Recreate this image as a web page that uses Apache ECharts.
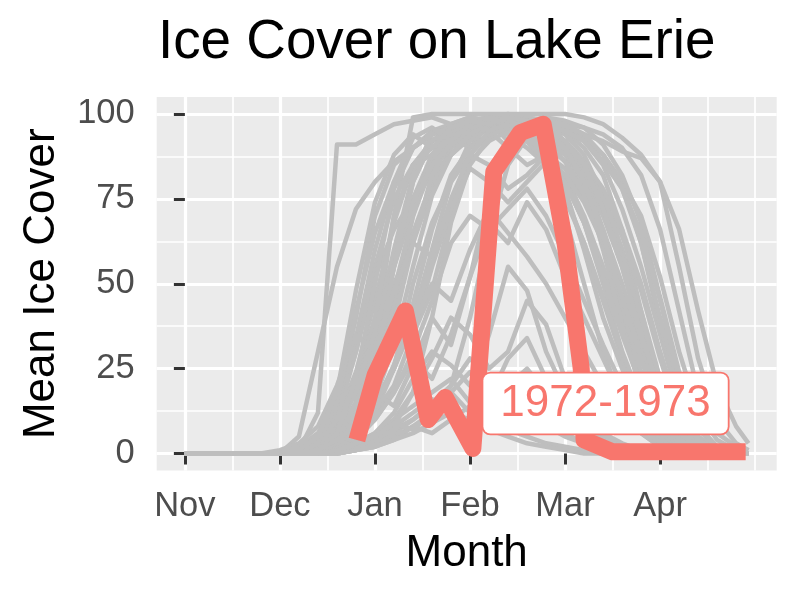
<!DOCTYPE html>
<html>
<head>
<meta charset="utf-8">
<script src="https://cdn.jsdelivr.net/npm/echarts@6/dist/echarts.min.js"></script>
<style>
html, body { margin: 0; background: #fff; }
#chart { width: 800px; height: 600px; }
</style>
</head>
<body>
<div id="chart"></div>
<script>
// x is months since Nov 1 (one unit per month)
const monthLabels = ['Nov', 'Dec', 'Jan', 'Feb', 'Mar', 'Apr'];
const monthTicks = [0, 1, 2, 3, 4, 5];
const monthMinor = [0.5, 1.5, 2.5, 3.5, 4.5, 5.5, 6];
const coverTicks = [0, 25, 50, 75, 100];
const coverMinor = [12.5, 37.5, 62.5, 87.5];

// sample dates shared by all grey seasons
const greyX = [0, 0.2, 0.4, 0.6, 0.8, 1, 1.2, 1.4, 1.6, 1.8, 2, 2.2, 2.4, 2.6, 2.8, 3, 3.2, 3.4, 3.6, 3.8, 4, 4.2, 4.4, 4.6, 4.8, 5, 5.2, 5.4, 5.6, 5.8, 5.93];

// mean ice cover of the other seasons (read off the tangle, approx.)
const s01 = [0,0,0,0,0,0,1,12,91,91,94,97,98,99,97,99,98,96,97,94,90,82,66,45,28,12,5,2,1,0,0];
const s02 = [0,0,0,0,0,0,5,30,55,72,80,86,90,95,97,98,99,100,99,97,95,93,88,80,70,52,30,12,4,1,0];
const s03 = [0,0,0,0,0,0,0,3,10,24,45,68,85,92,96,98,99,99,99,98,96,94,92,89,87,80,55,28,10,3,1];
const s04 = [0,0,0,0,0,0,0,1,4,12,35,70,99,100,100,100,100,100,100,100,100,99,97,93,88,80,66,42,20,8,3];
const s05 = [0,0,0,0,0,0,0,2,6,15,30,55,75,88,94,96,97,95,92,85,70,50,30,15,6,2,0,0,0,0,0];
const s06 = [0,0,0,0,0,0,0,2,8,20,38,50,62,78,90,95,97,98,96,90,78,60,40,25,12,5,2,1,0,0,0];
const s07 = [0,0,0,0,0,0,0,1,3,8,20,42,65,80,88,93,96,97,98,97,95,90,82,66,42,20,8,2,0,0,0];
const s08 = [0,0,0,0,0,0,0,0,1,3,6,10,14,18,22,15,12,20,25,18,10,6,3,1,0,0,0,0,0,0,0];
const s09 = [0,0,0,0,0,0,0,0,0,1,2,5,8,6,10,14,9,7,5,3,2,1,0,0,0,0,0,0,0,0,0];
const s10 = [0,0,0,0,0,0,0,1,5,12,25,40,35,48,70,86,92,95,93,88,80,68,52,35,20,8,3,1,0,0,0];
const s11 = [0,0,0,0,0,0,0,2,5,10,22,45,70,85,92,95,97,98,96,93,88,80,70,55,35,15,5,1,0,0,0];
const s12 = [0,0,0,0,0,0,0,0,2,6,12,20,35,55,72,88,94,96,97,95,90,82,65,40,20,8,3,1,0,0,0];
const s13 = [0,0,0,0,0,0,1,4,12,30,52,66,75,82,88,93,96,94,90,85,75,62,45,28,14,6,2,0,0,0,0];
const s14 = [0,0,0,0,0,0,0,0,0,1,2,4,8,12,20,40,65,85,93,96,95,92,85,72,55,35,15,5,1,0,0];
const s15 = [0,0,0,0,0,0,0,0,1,4,10,18,28,22,35,52,75,90,95,96,94,88,76,58,38,18,6,2,0,0,0];
const s16 = [0,0,0,0,0,0,0,1,3,8,15,25,38,50,45,60,72,65,58,50,40,30,20,12,6,2,1,0,0,0,0];
const s17 = [0,0,0,0,0,0,0,2,6,14,32,58,80,92,96,98,99,98,97,94,90,84,74,60,40,18,6,2,1,0,0];
const s18 = [0,0,0,0,0,0,0,0,1,2,5,10,18,28,40,35,25,30,45,38,22,12,6,3,1,0,0,0,0,0,0];
const s19 = [0,0,0,0,0,0,0,2,6,14,28,48,70,88,95,97,98,92,97,86,82,70,55,38,22,10,4,1,0,0,0];
const s20 = [0,0,0,0,0,0,0,1,3,7,15,25,40,60,80,92,96,98,97,96,95,92,88,80,62,38,16,5,1,0,0];
const s21 = [0,0,0,0,0,0,0,0,1,2,4,8,12,16,12,8,14,20,16,10,6,3,2,1,0,0,0,0,0,0,0];
const s22 = [0,0,0,0,0,0,1,3,10,22,40,58,75,86,93,90,97,94,98,95,92,86,75,60,42,22,9,3,1,0,0];
const s23 = [0,0,0,0,0,0,0,0,3,15,40,70,85,88,93,96,95,90,85,88,92,80,60,38,18,6,2,0,0,0,0];
const s24 = [0,0,0,0,0,0,1,4,9,18,35,60,82,94,97,99,98,96,93,88,80,68,50,30,14,5,1,0,0,0,0];
const s25 = [0,0,0,0,0,0,0,0,1,3,6,12,22,30,26,20,35,55,48,30,18,10,5,2,1,0,0,0,0,0,0];
const s26 = [0,0,0,0,0,0,0,0,2,5,12,25,50,68,80,88,85,78,82,88,84,75,62,45,28,12,4,1,0,0,0];
const s27 = [0,0,0,0,0,0,0,0,0,1,3,8,18,40,68,85,93,97,99,98,97,96,94,90,82,66,42,18,6,2,1];
const s28 = [0,0,0,0,0,0,0,1,5,15,32,55,72,84,90,94,96,95,92,86,76,62,46,30,16,6,2,0,0,0,0];
const s29 = [0,0,0,0,0,0,0,0,0,1,3,6,10,15,20,28,22,18,12,8,5,3,1,0,0,0,0,0,0,0,0];
const s30 = [0,0,0,0,0,0,0,1,4,9,20,38,62,82,92,96,98,97,96,93,89,83,75,64,48,28,10,3,1,0,0];
const s31 = [0,0,0,0,0,0,0,2,7,18,36,56,74,85,91,95,97,96,94,91,86,78,66,50,32,16,6,2,0,0,0];
const s32 = [0,0,0,0,0,0,0,0,2,8,25,55,80,92,96,97,98,95,98,99,98,96,91,82,68,46,24,8,2,0,0];
const s33 = [0,0,0,0,0,0,0,0,2,5,10,18,30,45,62,70,66,72,78,70,58,45,32,20,10,4,1,0,0,0,0];
const s34 = [0,0,0,0,0,0,0,2,10,30,55,75,85,90,93,95,97,96,93,88,82,74,62,46,30,15,5,1,0,0,0];
const s35 = [0,0,0,0,0,0,0,1,3,8,16,32,55,76,88,94,97,98,98,96,92,86,76,60,38,16,5,1,0,0,0];
const s36 = [0,0,0,0,0,0,0,0,1,2,4,7,10,14,18,12,9,6,10,14,9,5,2,1,0,0,0,0,0,0,0];
const s37 = [0,0,0,0,0,0,1,4,14,34,60,80,90,94,96,97,98,97,95,92,88,82,72,58,40,22,9,3,1,0,0];
const s38 = [0,0,0,0,0,0,0,1,6,22,50,78,90,94,96,97,95,97,97,98,97,94,88,78,62,40,20,7,2,0,0];
const s39 = [0,0,0,0,0,0,0,0,2,6,14,26,40,56,72,84,80,74,80,86,80,68,52,36,20,8,2,0,0,0,0];
const s40 = [0,0,0,0,0,0,0,3,15,40,70,85,90,94,96,96,98,99,98,96,92,86,78,66,50,30,12,4,1,0,0];
const s41 = [0,0,0,0,0,0,0,0,0,1,2,4,6,9,12,10,7,5,3,2,1,0,0,0,0,0,0,0,0,0,0];
const s42 = [0,0,0,0,0,0,0,1,3,7,14,26,44,66,82,90,94,96,95,92,86,76,62,44,24,10,3,1,0,0,0];
const s43 = [0,0,0,0,0,1,3,8,20,35,30,48,62,58,75,88,95,97,94,97,92,85,72,55,35,18,6,2,0,0,0];
const s44 = [0,0,0,0,0,0,2,6,15,42,65,80,93,96,92,97,99,98,96,97,95,92,86,78,65,45,22,8,2,1,0];
const s45 = [0,0,0,0,0,0,0,1,4,8,18,14,26,40,32,52,68,62,74,66,52,40,28,16,8,3,1,0,0,0,0];
const s46 = [0,0,0,0,0,0,1,5,18,48,74,88,94,90,96,98,97,99,98,95,90,80,64,46,28,12,4,1,0,0,0];
const s47 = [0,0,0,0,0,0,0,0,1,3,5,9,7,12,18,24,16,28,34,22,14,8,4,2,1,0,0,0,0,0,0];
const greySeasons = [s01,s02,s03,s04,s05,s06,s07,s08,s09,s10,s11,s12,s13,s14,s15,s16,s17,s18,s19,s20,s21,s22,s23,s24,
  s25,s26,s27,s28,s29,s30,s31,s32,s33,s34,s35,s36,s37,s38,s39,s40,s41,s42,s43,s44,s45,s46,s47];

// highlighted season 1972-1973
const hlName = '1972-1973';
const hlX = [1.81, 2.0, 2.32, 2.56, 2.74, 3.03, 3.25, 3.53, 3.77, 4.0, 4.17, 4.2, 4.5, 5.9];
const hlY = [4, 23, 42, 10, 16.5, 1.5, 83, 94.5, 97, 62, 25, 4, 0.5, 0.5];

// where the season label sits
const labelX = [4.426];
const labelY = [14.75];

const FONT = '"Liberation Sans", Arial, sans-serif';
const RED = '#F8766D';

let myChart = echarts.init(document.getElementById('chart'));

const greyLines = greySeasons.map((vals, k) => ({
  type: 'line',
  name: 'season' + (k + 1),
  data: greyX.map((x, i) => [x, vals[i]]),
  symbol: 'none',
  silent: true,
  z: 2,
  lineStyle: { color: '#bebebe', width: 4.5, join: 'round', opacity: 1 }
}));

myChart.setOption({
  animation: false,
  title: {
    text: 'Ice Cover on Lake Erie',
    left: 158,
    top: 15,
    padding: 0,
    textStyle: { fontFamily: FONT, fontSize: 54.8, fontWeight: 'normal', color: '#000' }
  },
  grid: {
    left: 156.7, right: 23.3, top: 97, bottom: 129.5,
    show: true, backgroundColor: '#ebebeb', borderWidth: 0
  },
  xAxis: [
    {
      type: 'value', min: -0.2965, max: 6.2265,
      name: 'Month', nameLocation: 'middle', nameGap: 61,
      nameTextStyle: { fontFamily: FONT, fontSize: 44, color: '#000' },
      axisLine: { show: false },
      axisTick: { customValues: monthTicks, length: 11, lineStyle: { color: '#333333', width: 3 } },
      axisLabel: {
        customValues: monthTicks, margin: 18,
        formatter: v => monthLabels[Math.round(v)],
        fontFamily: FONT, fontSize: 34.5, color: '#4d4d4d'
      },
      splitLine: { show: true, lineStyle: { color: '#fff', width: 3.2 } }
    },
    {
      // minor grid only
      type: 'value', min: -0.2965, max: 6.2265, position: 'top',
      axisLine: { show: false },
      axisTick: { show: false, customValues: monthMinor },
      axisLabel: { show: false, customValues: monthMinor },
      splitLine: { show: true, lineStyle: { color: '#fff', width: 1.7 } }
    }
  ],
  yAxis: [
    {
      type: 'value', min: -5, max: 105,
      name: 'Mean Ice Cover', nameLocation: 'middle', nameGap: 92.5,
      nameTextStyle: { fontFamily: FONT, fontSize: 44, color: '#000' },
      axisLine: { show: false },
      axisTick: { customValues: coverTicks, length: 11, lineStyle: { color: '#333333', width: 3 } },
      axisLabel: { customValues: coverTicks, margin: 22, fontFamily: FONT, fontSize: 34.5, color: '#4d4d4d' },
      splitLine: { show: true, lineStyle: { color: '#fff', width: 3.2 } }
    },
    {
      type: 'value', min: -5, max: 105, position: 'right',
      axisLine: { show: false },
      axisTick: { show: false, customValues: coverMinor },
      axisLabel: { show: false, customValues: coverMinor },
      splitLine: { show: true, lineStyle: { color: '#fff', width: 1.7 } }
    }
  ],
  series: greyLines.concat([
    {
      type: 'line',
      name: hlName,
      data: hlX.map((x, i) => [x, hlY[i]]),
      symbol: 'none',
      z: 3,
      lineStyle: { color: RED, width: 17, cap: 'butt', join: 'round', opacity: 1 }
    },
    {
      type: 'scatter',
      name: 'label',
      data: labelX.map((x, i) => [x, labelY[i]]),
      symbol: 'rect',
      symbolSize: 1,
      z: 5,
      itemStyle: { color: 'rgba(0,0,0,0)', opacity: 1 },
      label: {
        show: true, position: 'inside', opacity: 1,
        formatter: hlName,
        fontFamily: FONT, fontSize: 44, lineHeight: 44, color: RED,
        backgroundColor: '#fff', borderColor: RED, borderWidth: 1.8, borderRadius: 7,
        padding: [8, 17]
      }
    }
  ])
});
</script>
</body>
</html>
